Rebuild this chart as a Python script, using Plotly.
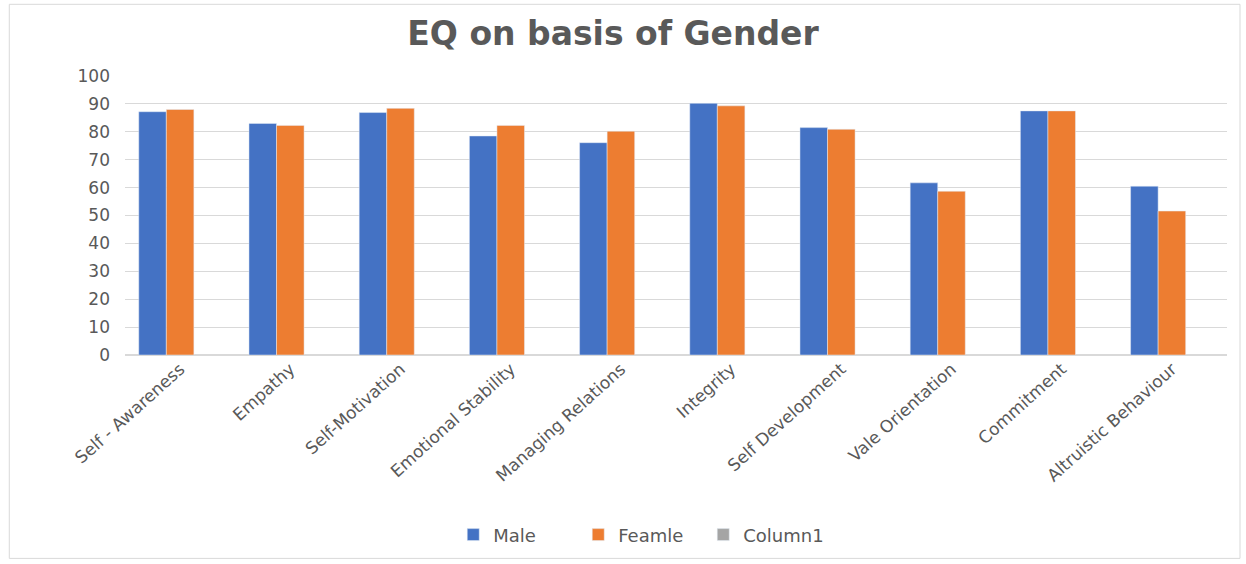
import plotly.graph_objects as go

categories = ["Self - Awareness", "Empathy", "Self-Motivation", "Emotional Stability",
              "Managing Relations", "Integrity", "Self Development", "Vale Orientation",
              "Commitment", "Altruistic Behaviour"]
male = [87.2, 83.0, 86.9, 78.5, 76.1, 90.2, 81.5, 61.7, 87.5, 60.5]
female = [88.0, 82.3, 88.4, 82.3, 80.2, 89.3, 80.9, 58.7, 87.5, 51.6]
column1 = [None] * len(categories)

FONT = "DejaVu Sans, Verdana, sans-serif"
GREY = "#595959"

fig = go.Figure()
fig.add_trace(go.Bar(name="Male", x=categories, y=male, marker_color="#4472C4"))
fig.add_trace(go.Bar(name="Feamle", x=categories, y=female, marker_color="#ED7D31"))
fig.add_trace(go.Bar(name="Column1", x=categories, y=column1, marker_color="#A5A5A5"))

fig.update_layout(
    width=1246, height=564,
    paper_bgcolor="white", plot_bgcolor="white",
    margin=dict(l=125, r=19, t=76, b=208),
    barmode="group", bargap=0.25, bargroupgap=0,
    font=dict(family=FONT, color=GREY, size=16),
    title=dict(text="<b>EQ on basis of Gender</b>", x=0.492, xanchor="center", y=0.941, yanchor="middle",
               font=dict(family=FONT, size=33, color=GREY)),
    legend=dict(orientation="h", x=0.468, xanchor="center", y=-0.639, yanchor="middle",
                font=dict(family=FONT, size=18, color=GREY), itemwidth=30, tracegroupgap=0,
                entrywidth=80),
    showlegend=True,
)
fig.update_yaxes(range=[0, 100], dtick=10, showgrid=True, gridcolor="#D9D9D9", gridwidth=1,
                 zeroline=True, zerolinecolor="#D9D9D9", showline=False,
                 tickfont=dict(family=FONT, size=17, color=GREY), ticklabelstandoff=14)
fig.update_xaxes(tickangle=-42, tickfont=dict(family=FONT, size=17, color=GREY), showline=False)

fig.add_shape(type="rect", xref="paper", yref="paper", x0=-0.105, x1=1.0118, y0=-0.729, y1=1.257,
              line=dict(color="#D9D9D9", width=1), layer="below")

fig.write_html("out.html")
